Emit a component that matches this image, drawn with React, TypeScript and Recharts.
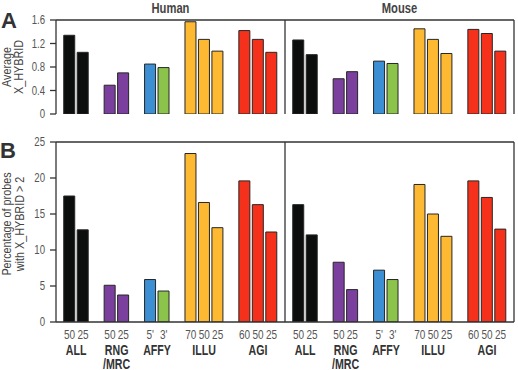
import React from 'react';
import { BarChart, Bar, XAxis, YAxis, Cell, ReferenceLine } from 'recharts';

// probe groups and per-bar labels, same order for both species
const groupNames = ['ALL', 'RNG\n/MRC', 'AFFY', 'ILLU', 'AGI'];
const probeLabels = [['50', '25'], ['50', '25'], ["5'", "3'"], ['70', '50', '25'], ['60', '50', '25']];
const barColors = ['#0b0e0d', '#0b0e0d', '#7b3f9e', '#7b3f9e', '#3b8fd2', '#8cc34b', '#fdb932', '#fdb932', '#fdb932', '#f5301b', '#f5301b', '#f5301b'];

// panel A: average X_HYBRID
const humanAverage = [1.34, 1.05, 0.49, 0.7, 0.85, 0.79, 1.57, 1.27, 1.07, 1.42, 1.27, 1.05];
const mouseAverage = [1.26, 1.01, 0.6, 0.72, 0.9, 0.86, 1.45, 1.27, 1.03, 1.44, 1.37, 1.07];

// panel B: % of probes with X_HYBRID > 2
const humanPercent = [17.5, 12.8, 5.1, 3.75, 5.9, 4.3, 23.4, 16.6, 13.1, 19.6, 16.3, 12.5];
const mousePercent = [16.3, 12.1, 8.3, 4.5, 7.2, 5.9, 19.1, 15.0, 11.9, 19.6, 17.3, 12.9];

const FONT = "'Liberation Sans', Arial, sans-serif";
const AXIS = '#333';

// slot layout: one empty slot between groups, species halves 17 slots wide
const SPECIES_OFFSET = 17;
const groupStarts: number[] = [];
probeLabels.reduce((acc, g) => {
  groupStarts.push(acc);
  return acc + g.length + 1;
}, 0);
const DOMAIN: [number, number] = [-1, 33];

const slots: number[] = [];
const slotLabel: Record<number, string> = {};
const groupCenters: number[] = [];
const groupLabel: Record<number, string> = {};
[0, 1].forEach((s) => {
  probeLabels.forEach((g, gi) => {
    const start = s * SPECIES_OFFSET + groupStarts[gi];
    g.forEach((lbl, j) => {
      slots.push(start + j);
      slotLabel[start + j] = lbl;
    });
    const c = start + (g.length - 1) / 2;
    groupCenters.push(c);
    groupLabel[c] = groupNames[gi];
  });
});

const buildRows = (human: number[], mouse: number[]) =>
  [...human, ...mouse].map((value, i) => ({
    slot: slots[i],
    value,
    color: barColors[i % barColors.length],
  }));

const averageRows = buildRows(humanAverage, mouseAverage);
const percentRows = buildRows(humanPercent, mousePercent);

type NarrowProps = {
  x: number;
  y: number;
  size: number;
  anchor?: 'start' | 'middle' | 'end';
  weight?: string;
  fill?: string;
  rotate?: number;
  squeeze?: number;
  children: React.ReactNode;
};

// Liberation Sans squeezed horizontally for a condensed Helvetica look
const NarrowText = ({ x, y, size, anchor = 'middle', weight = 'normal', fill = '#555', rotate = 0, squeeze = 0.8, children }: NarrowProps) => (
  <g transform={`translate(${x},${y}) rotate(${rotate}) scale(${squeeze},1)`}>
    <text x={0} y={0} textAnchor={anchor} fontSize={size} fontWeight={weight} fill={fill} fontFamily={FONT}>
      {children}
    </text>
  </g>
);

const ProbeTick = (props: any) => {
  const { x, y, payload } = props;
  return (
    <NarrowText x={x} y={y + 15} size={12.5}>
      {slotLabel[payload.value]}
    </NarrowText>
  );
};

const GroupTick = (props: any) => {
  const { x, y, payload } = props;
  const lines = (groupLabel[payload.value] || '').split('\n');
  return (
    <g>
      {lines.map((l, i) => (
        <NarrowText key={i} x={x} y={y + 13 + i * 14} size={14} weight="bold" fill="#333" squeeze={0.76}>
          {l}
        </NarrowText>
      ))}
    </g>
  );
};

const ValueTick = (props: any) => {
  const { x, y, payload } = props;
  return (
    <NarrowText x={x} y={y + 4} size={12} anchor="end">
      {String(payload.value)}
    </NarrowText>
  );
};

const Bars = ({ rows }: { rows: typeof averageRows }) => (
  <Bar dataKey="value" barSize={11} stroke="#262626" strokeWidth={1} isAnimationActive={false}>
    {rows.map((r, i) => (
      <Cell key={i} fill={r.color} />
    ))}
  </Bar>
);

export default function App() {
  return (
    <div style={{ position: 'absolute', left: 0, top: 0, width: 518, height: 370, background: '#fff' }}>
      <div style={{ position: 'absolute', left: 0, top: 0 }}>
        <BarChart width={518} height={120} data={averageRows} margin={{ top: 20, right: 4, bottom: 6, left: 0 }}>
          <XAxis
            type="number"
            dataKey="slot"
            domain={DOMAIN}
            ticks={slots}
            allowDataOverflow
            height={0}
            tick={false}
            tickLine={false}
            stroke={AXIS}
            strokeWidth={1.3}
          />
          <YAxis
            width={56}
            domain={[0, 1.6]}
            ticks={[0, 0.4, 0.8, 1.2, 1.6]}
            interval={0}
            allowDataOverflow
            tick={<ValueTick />}
            tickSize={6}
            tickMargin={5}
            stroke={AXIS}
            strokeWidth={1.3}
          />
          <ReferenceLine y={1.6} stroke={AXIS} strokeWidth={1.3} />
          <ReferenceLine x={33} stroke={AXIS} strokeWidth={1.3} />
          <ReferenceLine x={16} stroke={AXIS} strokeWidth={1.3} />
          {Bars({ rows: averageRows })}
        </BarChart>
      </div>
      <div style={{ position: 'absolute', left: 0, top: 120 }}>
        <BarChart width={518} height={250} data={percentRows} margin={{ top: 22, right: 4, bottom: 0, left: 0 }}>
          <XAxis
            type="number"
            dataKey="slot"
            domain={DOMAIN}
            ticks={slots}
            allowDataOverflow
            interval={0}
            height={18}
            tick={<ProbeTick />}
            tickLine={false}
            tickSize={0}
            stroke={AXIS}
            strokeWidth={1.3}
          />
          <XAxis
            xAxisId="grp"
            type="number"
            dataKey="slot"
            domain={DOMAIN}
            ticks={groupCenters}
            allowDataOverflow
            interval={0}
            height={30}
            axisLine={false}
            tickLine={false}
            tickSize={0}
            tick={<GroupTick />}
          />
          <YAxis
            width={56}
            domain={[0, 25]}
            ticks={[0, 5, 10, 15, 20, 25]}
            interval={0}
            allowDataOverflow
            tick={<ValueTick />}
            tickSize={6}
            tickMargin={5}
            stroke={AXIS}
            strokeWidth={1.3}
          />
          <ReferenceLine y={25} stroke={AXIS} strokeWidth={1.3} />
          <ReferenceLine x={33} stroke={AXIS} strokeWidth={1.3} />
          <ReferenceLine x={16} stroke={AXIS} strokeWidth={1.3} />
          {Bars({ rows: percentRows })}
        </BarChart>
      </div>
      {/* panel letters, species headings and y titles */}
      <svg width={518} height={370} style={{ position: 'absolute', left: 0, top: 0, pointerEvents: 'none' }}>
        <g fontFamily={FONT} fontWeight="bold" fill="#333" fontSize={22}>
          <text x={1} y={28}>A</text>
          <text x={0} y={158}>B</text>
        </g>
        <NarrowText x={170.5} y={13} size={14} weight="bold" fill="#444">Human</NarrowText>
        <NarrowText x={399.5} y={13} size={14} weight="bold" fill="#444">Mouse</NarrowText>
        <NarrowText x={11} y={67} size={13.5} rotate={-90} fill="#444">Average</NarrowText>
        <NarrowText x={23} y={67} size={13.5} rotate={-90} fill="#444">X_HYBRID</NarrowText>
        <NarrowText x={11} y={224} size={13.5} rotate={-90} fill="#444">Percentage of probes</NarrowText>
        <NarrowText x={24} y={224} size={13.5} rotate={-90} fill="#444">with X_HYBRID &gt; 2</NarrowText>
      </svg>
    </div>
  );
}
